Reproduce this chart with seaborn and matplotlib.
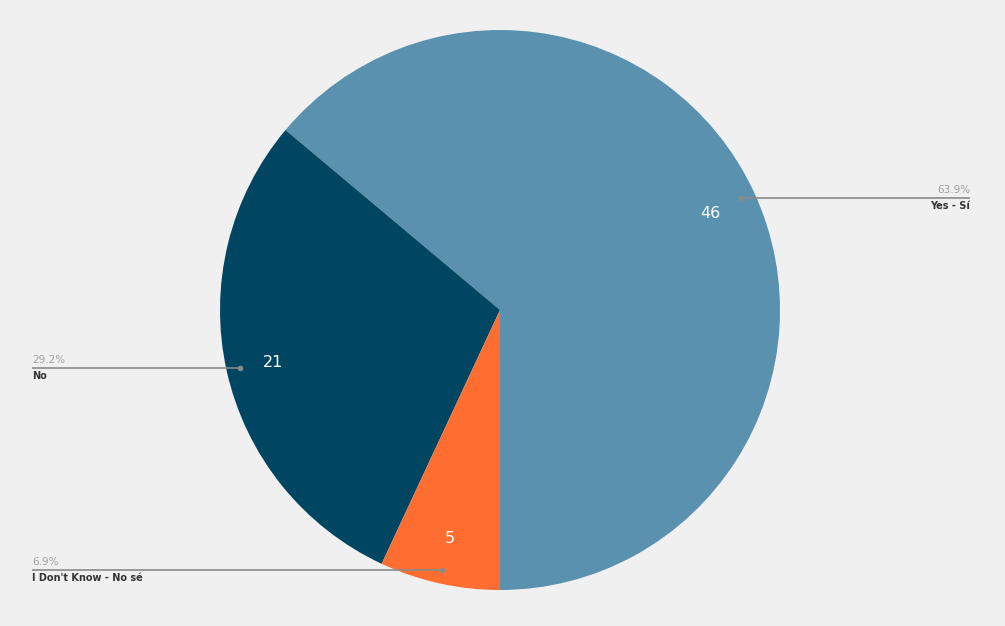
import numpy as np
import matplotlib
matplotlib.use("Agg")
import matplotlib.pyplot as plt
import seaborn as sns

sns.set_theme(style="white")
plt.rcParams['font.family'] = ['DejaVu Sans']

categories = ["Yes - Sí", "No", "I Don't Know - No sé"]
values = [46, 21, 5]
colors = ["#5A91AE", "#004561", "#FF6D31"]

W, H = 1005, 626
fig = plt.figure(figsize=(W / 100, H / 100), dpi=100, facecolor="#F0F0F0")
ax = fig.add_axes([0, 0, 1, 1])
ax.set_facecolor("#F0F0F0")

cx, cy, R = 500, 316, 280
total = sum(values)
wedges, texts = ax.pie(values, colors=colors, startangle=-90, counterclock=True,
                       center=(cx, cy), radius=R, frame=True,
                       wedgeprops=dict(linewidth=0))
ax.set_xlim(0, W)
ax.set_ylim(0, H)
ax.set_aspect("equal")
ax.axis("off")

for w, cat, v in zip(wedges, categories, values):
    mid = np.deg2rad((w.theta1 + w.theta2) / 2)
    ax.text(cx + 0.83 * R * np.cos(mid), cy + 0.83 * R * np.sin(mid) - 2, str(v),
            color="white", fontsize=11.5, ha="center", va="center")
    px, py = cx + 0.95 * R * np.cos(mid), cy + 0.95 * R * np.sin(mid)
    right = np.cos(mid) > 0
    ex = 970 if right else 32
    ax.plot([px, ex], [py, py], color="#8a8a8a", lw=1.2, solid_capstyle="butt")
    ax.plot([px], [py], "o", color="#8a8a8a", ms=3)
    ha = "right" if right else "left"
    pct = f"{v / total * 100:.1f}%"
    ax.text(ex, py + 3, pct, color="#a0a0a0", fontsize=7.5, ha=ha, va="bottom")
    ax.text(ex, py - 3, cat, color="#333333", fontsize=7, fontweight="semibold",
            ha=ha, va="top")

fig.savefig("out.png", dpi=100, facecolor=fig.get_facecolor())
